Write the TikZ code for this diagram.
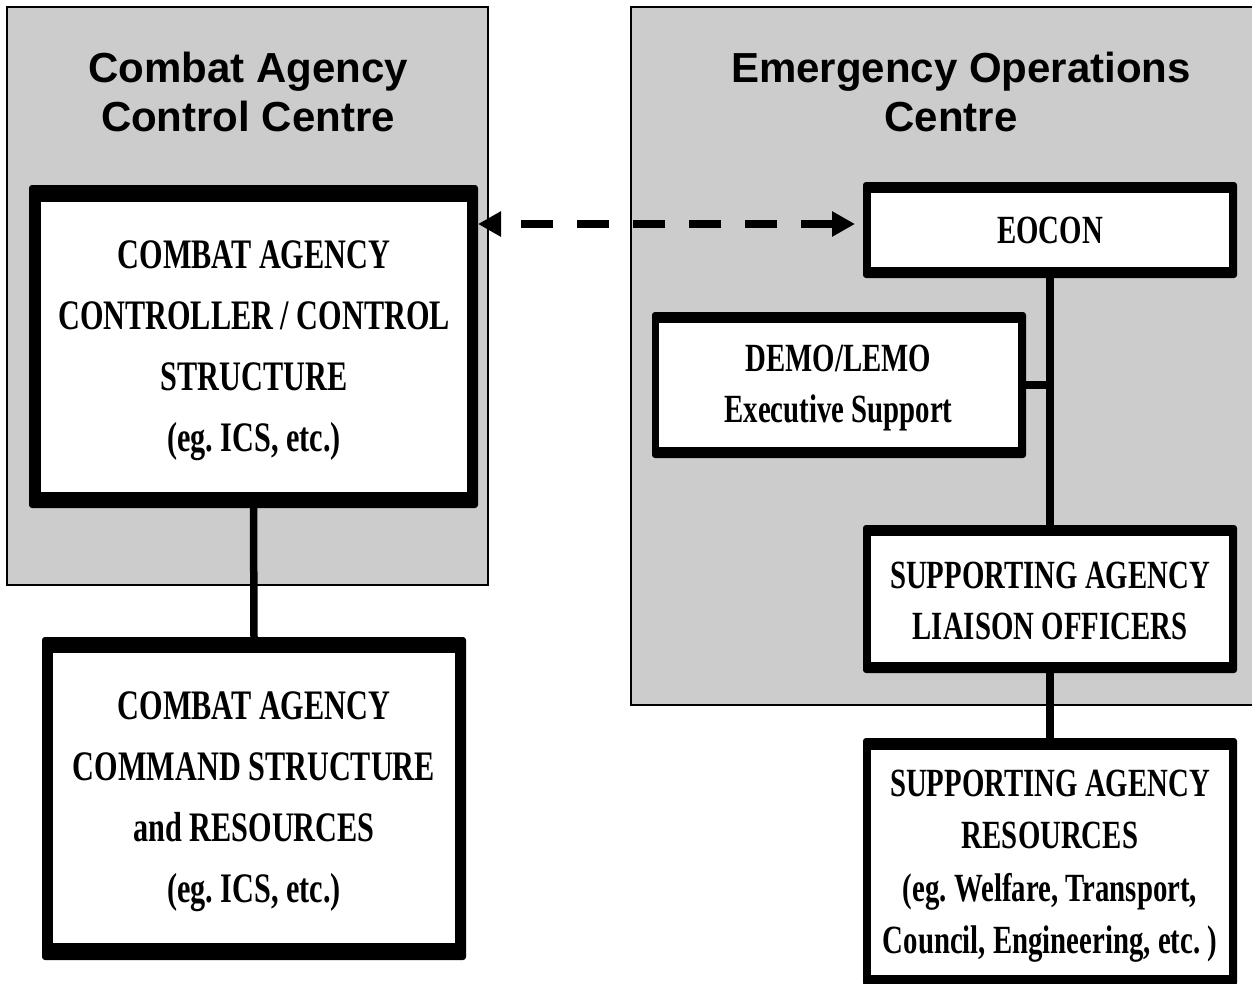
\documentclass[tikz,border=0pt]{standalone}
\usepackage{fontspec}
\setmainfont{Liberation Sans}
\newfontfamily\boxfont[FakeStretch=0.72]{Liberation Serif}
\usetikzlibrary{arrows.meta}
\definecolor{panelgray}{RGB}{204,204,204}
\frenchspacing
\tikzset{
  panel/.style={fill=panelgray, draw=black, line width=2.5pt},
  frame/.style={fill=black, rounded corners=3pt, inner sep=0pt, outer sep=0pt},
  face/.style={fill=white, inner sep=0pt, outer sep=0pt},
  txtL/.style={inner sep=0pt, align=center,
    font=\boxfont\bfseries\fontsize{42}{61}\selectfont},
  txtR/.style={txtL, font=\boxfont\bfseries\fontsize{40}{51}\selectfont},
  txtRR/.style={txtL, font=\boxfont\bfseries\fontsize{40}{52.5}\selectfont},
  title/.style={font=\bfseries\fontsize{42}{50}\selectfont, inner sep=0pt, anchor=base},
  link/.style={line width=7.5pt},
  dasharrow/.style={line width=8.5pt, dash pattern=on 32pt off 24pt,
    arrows={Triangle[length=23pt,width=24pt]-Triangle[length=23pt,width=24pt]}},
}
\begin{document}
\begin{tikzpicture}[x=1pt,y=-1pt]
\useasboundingbox (0,0) rectangle (1252,983);
% panels
\draw[panel] (7,7) rectangle (488,585);
\draw[panel] (631,7) rectangle (1265,705);
% titles
\node[title] (t1a) at (248,82) {Combat Agency};
\node[title] (t1b) at (248,131) {Control Centre};
\node[title] (t2a) at (961,82) {Emergency Operations};
\node[title] (t2b) at (951,131) {Centre};
% left boxes
\node[frame, minimum width=449pt, minimum height=323pt] (cac) at (253.5,346.5) {};
\node[face, minimum width=426pt, minimum height=290pt] (cacf) at (254,347) {};
\node[txtL] (cact) at (254,351)
  {COMBAT AGENCY\\CONTROLLER / CONTROL\\STRUCTURE\\(eg. ICS, etc.)};
\node[frame, minimum width=424pt, minimum height=323pt] (cmd) at (254,798.5) {};
\node[face, minimum width=402pt, minimum height=290pt] (cmdf) at (254,798) {};
\node[txtL] (cmdt) at (254,802)
  {COMBAT AGENCY\\COMMAND STRUCTURE\\and RESOURCES\\(eg. ICS, etc.)};
% right boxes
\node[frame, minimum width=374pt, minimum height=96pt] (eocon) at (1050,230) {};
\node[face, minimum width=358pt, minimum height=74pt] (eoconf) at (1050,230) {};
\node[txtR] (eocont) at (1050,230) {EOCON};
\node[frame, minimum width=374pt, minimum height=146pt] (demo) at (839,385) {};
\node[face, minimum width=359pt, minimum height=124pt] (demof) at (838.5,385) {};
\node[txtR] (demot) at (838.5,388) {DEMO/LEMO\\Executive Support};
\node[frame, minimum width=374pt, minimum height=148pt] (liaison) at (1050,599) {};
\node[face, minimum width=358pt, minimum height=126pt] (liaisonf) at (1050,599) {};
\node[txtR] (liaisont) at (1050,601) {SUPPORTING AGENCY\\LIAISON OFFICERS};
\node[frame, minimum width=374pt, minimum height=248pt] (res) at (1050,862) {};
\node[face, minimum width=358pt, minimum height=225pt] (resf) at (1050,862.5) {};
\node[txtRR] (rest) at (1050,866)
  {SUPPORTING AGENCY\\RESOURCES\\(eg. Welfare, Transport,\\Council, Engineering, etc. )};
% connectors
\draw[link] (cac.south) -- (cmd.north);
\draw[link] (eocon.south) -- (liaison.north);
\draw[link] (liaison.south) -- (res.north);
\draw[link] (demo.east) -- (demo.east -| eocon.south);
% dashed double arrow
\coordinate (ay) at ([yshift=6pt]eocon.west);
\coordinate (ar) at ([xshift=-8pt]ay);
\coordinate (al) at (ay -| cac.east);
\draw[dasharrow] (ar) -- (al);
\end{tikzpicture}
\end{document}
